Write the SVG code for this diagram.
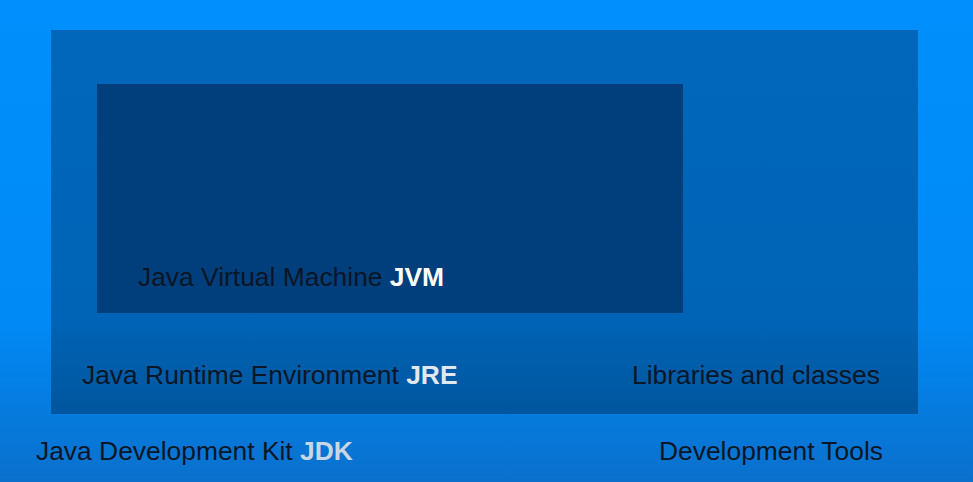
<svg xmlns="http://www.w3.org/2000/svg" width="973" height="482" viewBox="0 0 973 482">
<defs>
<linearGradient id="gOuter" x1="0" y1="0" x2="0" y2="1">
<stop offset="0" stop-color="#008ffc"/>
<stop offset="0.66" stop-color="#008af6"/>
<stop offset="1" stop-color="#0a70cc"/>
</linearGradient>
<linearGradient id="gMid" x1="0" y1="0" x2="0" y2="1">
<stop offset="0" stop-color="#0067ba"/>
<stop offset="0.75" stop-color="#0064b6"/>
<stop offset="1" stop-color="#00569e"/>
</linearGradient>
</defs>
<style>
.t{font-family:"Liberation Sans",Arial,sans-serif;font-size:26.4px;fill:#0b1626}
.b{font-weight:bold}
</style>
<g id="jdk">
<rect x="0" y="0" width="973" height="482" fill="url(#gOuter)"/>
<text class="t" x="36" y="460">Java Development Kit <tspan class="b" fill="#c9d6e4">JDK</tspan></text>
<text class="t" x="659" y="460">Development Tools</text>
</g>
<g id="jre">
<rect x="51" y="30" width="867" height="384" fill="url(#gMid)"/>
<text class="t" x="82" y="384">Java Runtime Environment <tspan class="b" fill="#e2e8ee">JRE</tspan></text>
<text class="t" x="632" y="384">Libraries and classes</text>
</g>
<g id="jvm">
<rect x="97" y="84" width="586" height="229" fill="#003f7b"/>
<text class="t" x="138" y="286">Java Virtual Machine <tspan class="b" fill="#ffffff">JVM</tspan></text>
</g>
<g id="connectors"/>
</svg>
